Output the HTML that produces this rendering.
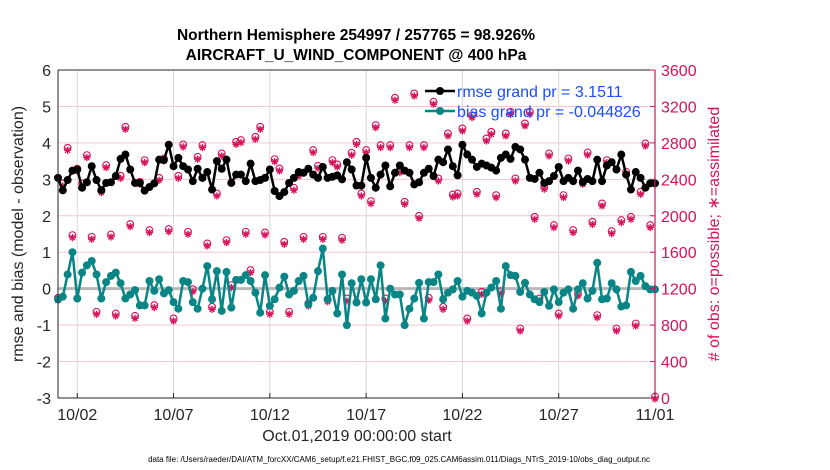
<!DOCTYPE html>
<html><head><meta charset="utf-8"><style>
body{margin:0;background:#fff;}
svg{display:block;font-family:"Liberation Sans",Arial,sans-serif;}
</style></head><body>
<svg id="chart" width="830" height="470" viewBox="0 0 830 470">
<g id="grid"></g>
<g id="marks"></g>
<g id="axes"></g>
</svg>
<script>
const rmse=[3.04,2.70,2.98,3.24,3.27,2.77,2.92,3.36,2.98,2.70,2.90,2.92,3.09,3.56,3.68,3.27,2.90,2.90,2.69,2.79,2.89,3.54,3.53,3.95,3.36,3.59,3.36,3.27,2.95,3.29,3.04,3.20,2.72,3.50,3.29,3.54,2.90,3.13,3.13,2.95,3.43,2.95,2.98,3.04,3.27,2.68,2.54,2.65,2.90,3.04,3.20,3.18,3.29,3.13,3.04,3.34,3.04,3.07,3.11,3.00,3.47,3.27,2.83,
2.83,3.59,3.04,2.77,3.13,3.38,2.81,3.18,3.38,3.24,3.18,2.86,2.92,3.18,3.29,3.09,3.54,3.47,3.82,3.36,3.11,3.95,3.68,3.54,3.34,3.43,3.38,3.32,3.24,3.59,3.68,3.56,3.89,3.82,3.54,3.04,3.01,3.18,2.90,2.95,3.09,3.34,2.95,3.04,2.95,3.24,2.92,3.01,2.95,3.54,2.95,3.38,3.47,3.27,3.68,3.13,2.72,3.20,3.04,2.77,2.89,2.89];
const bias=[-0.29,-0.22,0.39,1.00,-0.27,0.44,0.64,0.76,0.39,-0.27,0.18,0.35,0.44,0.15,-0.27,-0.16,-0.04,-0.46,-0.46,0.21,-0.06,0.26,-0.13,-0.04,-0.37,-0.55,0.21,0.18,-0.37,-0.55,0,0.62,-0.29,0.48,-0.61,0.46,-0.52,0.24,0.24,0.37,0.21,-0.11,-0.66,0.37,-0.47,-0.29,0.03,0.33,-0.16,-0.06,0.21,0.35,-0.43,-0.25,0.48,1.10,-0.29,-0.06,-0.68,0.39,-1.00,0.15,-0.38,
0.26,-0.38,0.26,-0.29,0.64,-0.82,0,-0.16,-0.16,-1.00,-0.55,-0.27,0.16,-0.82,0.18,0.18,0.39,-0.29,-0.11,-0.02,0.21,-0.22,-0.06,-0.11,-0.20,-0.68,-0.11,0.03,0.21,-0.55,0.62,0.37,0.35,-0.09,0.16,-0.16,-0.29,-0.37,-0.09,-0.47,-0.02,-0.37,-0.11,-0.02,-0.55,-0.02,0.15,-0.27,-0.06,0.71,-0.29,-0.27,0.15,-0.02,-0.49,-0.46,0.46,0.21,0.35,0.07,-0.02,-0.02];
const obsPossible=[1083,2338,2730,1771,2500,2338,2649,1753,930,2265,2539,1778,911,2422,2960,1892,885,2356,2594,1826,1003,2400,2612,1837,856,2422,2766,1808,1178,2631,2759,1680,984,2228,2667,1716,1222,2795,2814,1808,1387,2850,2960,1800,930,2605,2503,1698,930,2291,2448,1753,1021,2704,2532,1753,1068,2594,2547,1742,1076,2675,2795,
2228,2704,2144,2978,2759,1076,2759,3279,2485,2137,2759,3326,1983,2759,1083,3235,2393,984,2887,2217,2228,2942,856,3088,2247,1149,2832,2905,2210,1156,2887,3125,2393,746,2997,3125,1972,1076,2302,2667,1881,911,2210,2612,1826,1131,2357,2678,1917,893,2119,2594,1815,746,1936,2466,1972,801,2247,2777,1881,0];
const xTickLabels=["10/02","10/07","10/12","10/17","10/22","10/27","11/01"];
const xTickDays=[1,6,11,16,21,26,31];
const yLeftTicks=[-3,-2,-1,0,1,2,3,4,5,6];
const yRightTicks=[0,400,800,1200,1600,2000,2400,2800,3200,3600];

const L=58,R=655,T=70,B=398,NS="http://www.w3.org/2000/svg";
const xDay=d=>L+(R-L)*d/31;
const xIdx=i=>xDay(i*0.25);
const yL=v=>B-(B-T)*(v+3)/9;
const yR=c=>B-(B-T)*c/3600;
const PINK="#d6125a";
function mk(tag,attrs,parent,text){const e=document.createElementNS(NS,tag);for(const k in attrs)e.setAttribute(k,attrs[k]);if(text!==undefined)e.textContent=text;document.getElementById(parent).appendChild(e);return e;}
function star(x,y,r){let d='';for(let k=0;k<4;k++){const a=k*Math.PI/4;d+=`M${x-r*Math.cos(a)},${y-r*Math.sin(a)}L${x+r*Math.cos(a)},${y+r*Math.sin(a)}`;}return d;}

// grid
yLeftTicks.forEach(v=>{if(v>-3&&v<6){const g=mk('line',{x1:L,x2:R,y1:yL(v),y2:yL(v),stroke:'#f3c6d6','stroke-width':1},'grid');

}});
xTickDays.forEach(d=>{const g=mk('line',{x1:xDay(d),x2:xDay(d),y1:T,y2:B,stroke:'#d8d8d8','stroke-width':1},'grid');

});
const z=mk('line',{x1:L,x2:R,y1:yL(0),y2:yL(0),stroke:'#b8b8b8','stroke-width':3},'grid');



// obs counts
obsPossible.forEach((c,i)=>{const x=xIdx(i),y=yR(c);
const o=mk('circle',{cx:x,cy:y-1.5,r:3.4,fill:'none',stroke:PINK,'stroke-width':1.1},'marks');


const s=mk('path',{d:star(x,y+1,3.6),stroke:PINK,'stroke-width':1.3,fill:'none'},'marks');

});

// series
function series(vals,color,name){
const p=mk('polyline',{points:vals.map((v,i)=>xIdx(i)+','+yL(v)).join(' '),fill:'none',stroke:color,'stroke-width':2.5,'stroke-linejoin':'round'},'marks');


vals.forEach((v,i)=>{const c=mk('circle',{cx:xIdx(i),cy:yL(v),r:4,fill:color},'marks');

});
}
series(rmse,'#000','rmse');
series(bias,'#0a8585','bias');

// axes box
const box=mk('path',{d:`M${L},${T}H${R}M${L},${T}V${B}H${R}`,fill:'none',stroke:'#262626','stroke-width':1},'axes');


const ra=mk('line',{x1:R,x2:R,y1:T,y2:B,stroke:PINK,'stroke-width':1.2},'axes');


yLeftTicks.forEach(v=>{const t=mk('text',{x:L-7,y:yL(v)+6,'text-anchor':'end','font-size':16,fill:'#262626'},'axes',String(v));

});
yRightTicks.forEach(c=>{mk('line',{x1:R-5,x2:R,y1:yR(c),y2:yR(c),stroke:PINK},'axes');
const t=mk('text',{x:R+6,y:yR(c)+6,'font-size':16,fill:PINK},'axes',String(c));

});
xTickDays.forEach((d,i)=>{mk('line',{x1:xDay(d),x2:xDay(d),y1:B,y2:B-5,stroke:'#262626'},'axes');
const t=mk('text',{x:xDay(d),y:B+22,'text-anchor':'middle','font-size':16,fill:'#262626'},'axes',xTickLabels[i]);

});
</script>
<svg style="position:absolute;left:0;top:0" width="830" height="470">
<text x="356" y="40" text-anchor="middle" font-size="15.5" font-weight="bold" fill="#000" font-family="Liberation Sans, sans-serif">Northern Hemisphere 254997 / 257765 = 98.926%</text>
<text x="356" y="60" text-anchor="middle" font-size="15.5" font-weight="bold" fill="#000" font-family="Liberation Sans, sans-serif">AIRCRAFT_U_WIND_COMPONENT @ 400 hPa</text>
<text x="357" y="441" text-anchor="middle" font-size="16" fill="#262626" font-family="Liberation Sans, sans-serif">Oct.01,2019 00:00:00 start</text>
<text x="399" y="462" text-anchor="middle" font-size="8" fill="#000" font-family="Liberation Sans, sans-serif">data file: /Users/raeder/DAI/ATM_forcXX/CAM6_setup/f.e21.FHIST_BGC.f09_025.CAM6assim.011/Diags_NTrS_2019-10/obs_diag_output.nc</text>
<text transform="translate(23,234) rotate(-90)" text-anchor="middle" font-size="16" fill="#262626" font-family="Liberation Sans, sans-serif">rmse and bias (model - observation)</text>
<text transform="translate(719,234) rotate(-90)" text-anchor="middle" font-size="16" fill="#d6125a" font-family="Liberation Sans, sans-serif"># of obs: o=possible; ∗=assimilated</text>
<g>
<line x1="425" y1="91" x2="455" y2="91" stroke="#000" stroke-width="2.5"/><circle cx="440" cy="91" r="4" fill="#000"/>
<text x="457" y="97" font-size="16" fill="#1a4dff" font-family="Liberation Sans, sans-serif">rmse grand pr = 3.1511</text>
<line x1="425" y1="111" x2="455" y2="111" stroke="#0a8585" stroke-width="2.5"/><circle cx="440" cy="111" r="4" fill="#0a8585"/>
<text x="457" y="117" font-size="16" fill="#1a4dff" font-family="Liberation Sans, sans-serif">bias grand pr = -0.044826</text>
</g>
</svg>
</body></html>
